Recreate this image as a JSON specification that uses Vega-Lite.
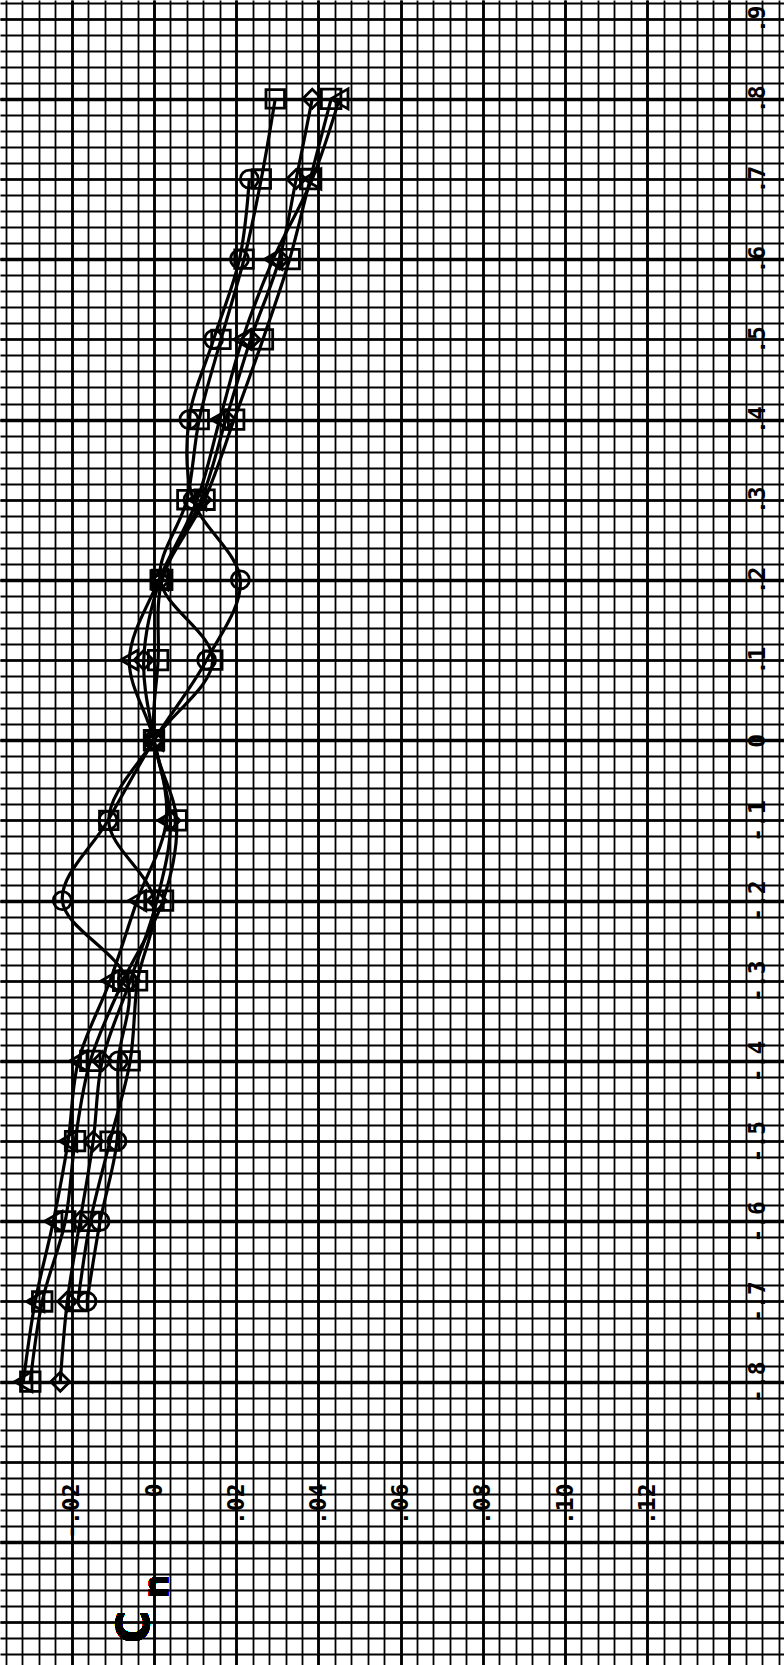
{
  "$schema": "https://vega.github.io/schema/vega-lite/v6.json",
  "width": 784,
  "height": 1665,
  "padding": 0,
  "autosize": {"type": "none"},
  "background": "white",
  "config": {"view": {"stroke": null}, "axis": {"domain": false, "ticks": false, "title": null, "gridColor": "#000", "gridOpacity": 1}},
  "datasets": {
    "pts": [
      {"s": "tri", "a": 0.8, "c": 0.0451}, {"s": "tri", "a": 0.7, "c": 0.0385}, {"s": "tri", "a": 0.6, "c": 0.029}, {"s": "tri", "a": 0.5, "c": 0.0215}, {"s": "tri", "a": 0.4, "c": 0.016}, {"s": "tri", "a": 0.3, "c": 0.0105}, {"s": "tri", "a": 0.2, "c": 0.0012}, {"s": "tri", "a": 0.1, "c": -0.006}, {"s": "tri", "a": 0.0, "c": 0.0}, {"s": "tri", "a": -0.1, "c": 0.003}, {"s": "tri", "a": -0.2, "c": -0.0041}, {"s": "tri", "a": -0.3, "c": -0.0107}, {"s": "tri", "a": -0.4, "c": -0.0184}, {"s": "tri", "a": -0.5, "c": -0.0209}, {"s": "tri", "a": -0.6, "c": -0.0245}, {"s": "tri", "a": -0.7, "c": -0.0289}, {"s": "tri", "a": -0.8, "c": -0.0318},
      {"s": "sqB", "a": 0.8, "c": 0.0431}, {"s": "sqB", "a": 0.7, "c": 0.038}, {"s": "sqB", "a": 0.6, "c": 0.033}, {"s": "sqB", "a": 0.5, "c": 0.0265}, {"s": "sqB", "a": 0.4, "c": 0.0195}, {"s": "sqB", "a": 0.3, "c": 0.0123}, {"s": "sqB", "a": 0.2, "c": 0.002}, {"s": "sqB", "a": 0.1, "c": 0.001}, {"s": "sqB", "a": 0.0, "c": 0.0}, {"s": "sqB", "a": -0.1, "c": 0.0055}, {"s": "sqB", "a": -0.2, "c": 0.0022}, {"s": "sqB", "a": -0.3, "c": -0.0075}, {"s": "sqB", "a": -0.4, "c": -0.0155}, {"s": "sqB", "a": -0.5, "c": -0.0192}, {"s": "sqB", "a": -0.6, "c": -0.0216}, {"s": "sqB", "a": -0.7, "c": -0.0272}, {"s": "sqB", "a": -0.8, "c": -0.0301},
      {"s": "dia", "a": 0.8, "c": 0.0385}, {"s": "dia", "a": 0.7, "c": 0.0346}, {"s": "dia", "a": 0.6, "c": 0.0305}, {"s": "dia", "a": 0.5, "c": 0.0235}, {"s": "dia", "a": 0.4, "c": 0.0175}, {"s": "dia", "a": 0.3, "c": 0.0115}, {"s": "dia", "a": 0.2, "c": 0.0015}, {"s": "dia", "a": 0.1, "c": -0.0025}, {"s": "dia", "a": 0.0, "c": 0.0}, {"s": "dia", "a": -0.1, "c": 0.004}, {"s": "dia", "a": -0.2, "c": 0.0007}, {"s": "dia", "a": -0.3, "c": -0.0058}, {"s": "dia", "a": -0.4, "c": -0.0126}, {"s": "dia", "a": -0.5, "c": -0.0148}, {"s": "dia", "a": -0.6, "c": -0.018}, {"s": "dia", "a": -0.7, "c": -0.0211}, {"s": "dia", "a": -0.8, "c": -0.0228},
      {"s": "sqA", "a": 0.8, "c": 0.0295}, {"s": "sqA", "a": 0.7, "c": 0.0261}, {"s": "sqA", "a": 0.6, "c": 0.0219}, {"s": "sqA", "a": 0.5, "c": 0.0163}, {"s": "sqA", "a": 0.4, "c": 0.011}, {"s": "sqA", "a": 0.3, "c": 0.008}, {"s": "sqA", "a": 0.2, "c": 0.0015}, {"s": "sqA", "a": 0.1, "c": 0.0143}, {"s": "sqA", "a": 0.0, "c": 0.0}, {"s": "sqA", "a": -0.1, "c": -0.011}, {"s": "sqA", "a": -0.2, "c": 0.0}, {"s": "sqA", "a": -0.3, "c": -0.004}, {"s": "sqA", "a": -0.4, "c": -0.0058}, {"s": "sqA", "a": -0.5, "c": -0.0107}, {"s": "sqA", "a": -0.6, "c": -0.0155}, {"s": "sqA", "a": -0.7, "c": -0.0185},
      {"s": "cir", "a": 0.7, "c": 0.0232}, {"s": "cir", "a": 0.6, "c": 0.0208}, {"s": "cir", "a": 0.5, "c": 0.0145}, {"s": "cir", "a": 0.4, "c": 0.0085}, {"s": "cir", "a": 0.3, "c": 0.0095}, {"s": "cir", "a": 0.2, "c": 0.021}, {"s": "cir", "a": 0.1, "c": 0.0128}, {"s": "cir", "a": 0.0, "c": 0.0}, {"s": "cir", "a": -0.1, "c": -0.0112}, {"s": "cir", "a": -0.2, "c": -0.0223}, {"s": "cir", "a": -0.3, "c": -0.0065}, {"s": "cir", "a": -0.4, "c": -0.0087}, {"s": "cir", "a": -0.5, "c": -0.009}, {"s": "cir", "a": -0.6, "c": -0.0131}, {"s": "cir", "a": -0.7, "c": -0.0163}
    ]
  },
  "data": {"name": "pts"},
  "layer": [
    {
      "mark": {"type": "point", "opacity": 0},
      "encoding": {
        "x": {"field": "c", "type": "quantitative", "scale": {"domain": [-0.03747, 0.15328], "nice": false, "zero": false},
          "axis": {"orient": "bottom", "grid": true, "labels": false, "gridWidth": 1.8,
            "values": [-0.036,-0.032,-0.028,-0.024,-0.02,-0.016,-0.012,-0.008,-0.004,0,0.004,0.008,0.012,0.016,0.02,0.024,0.028,0.032,0.036,0.04,0.044,0.048,0.052,0.056,0.06,0.064,0.068,0.072,0.076,0.08,0.084,0.088,0.092,0.096,0.1,0.104,0.108,0.112,0.116,0.12,0.124,0.128,0.132,0.136,0.14,0.144,0.148,0.152]}},
        "y": {"field": "a", "type": "quantitative", "scale": {"domain": [-1.1534, 0.9233], "nice": false, "zero": false},
          "axis": {"orient": "left", "grid": true, "labels": false, "gridWidth": 1.8,
            "values": [0.92,0.9,0.88,0.86,0.84,0.82,0.8,0.78,0.76,0.74,0.72,0.7,0.68,0.66,0.64,0.62,0.6,0.58,0.56,0.54,0.52,0.5,0.48,0.46,0.44,0.42,0.4,0.38,0.36,0.34,0.32,0.3,0.28,0.26,0.24,0.22,0.2,0.18,0.16,0.14,0.12,0.1,0.08,0.06,0.04,0.02,0,-0.02,-0.04,-0.06,-0.08,-0.1,-0.12,-0.14,-0.16,-0.18,-0.2,-0.22,-0.24,-0.26,-0.28,-0.3,-0.32,-0.34,-0.36,-0.38,-0.4,-0.42,-0.44,-0.46,-0.48,-0.5,-0.52,-0.54,-0.56,-0.58,-0.6,-0.62,-0.64,-0.66,-0.68,-0.7,-0.72,-0.74,-0.76,-0.78,-0.8,-0.82,-0.84,-0.86,-0.88,-0.9,-0.92,-0.94,-0.96,-0.98,-1,-1.02,-1.04,-1.06,-1.08,-1.1,-1.12,-1.14]}}
      }
    },
    {
      "mark": {"type": "point", "opacity": 0},
      "encoding": {
        "x": {"field": "c", "type": "quantitative", "scale": {"domain": [-0.03747, 0.15328], "nice": false, "zero": false},
          "axis": {"orient": "bottom", "offset": -182, "grid": true, "gridWidth": 2.8,
            "values": [-0.02, 0, 0.02, 0.04, 0.06, 0.08, 0.1, 0.12, 0.14],
            "labelExpr": "datum.value > 0.13 ? '' : (abs(datum.value) < 0.001 ? '0' : (datum.value < 0 ? '-' : '') + '.' + (round(abs(datum.value)*100) < 10 ? '0' : '') + round(abs(datum.value)*100))",
            "labelAngle": 270, "labelAlign": "right", "labelBaseline": "middle", "labelPadding": 0,
            "labelFont": "DejaVu Sans Mono", "labelFontWeight": "bold", "labelFontSize": 23, "labelColor": "#000", "labelOverlap": false, "labelFlush": false}},
        "y": {"field": "a", "type": "quantitative", "scale": {"domain": [-1.1534, 0.9233], "nice": false, "zero": false},
          "axis": {"orient": "right", "offset": -38, "grid": true, "gridWidth": 2.4,
            "values": [0.9, 0.8, 0.7, 0.6, 0.5, 0.4, 0.3, 0.2, 0.1, 0, -0.1, -0.2, -0.3, -0.4, -0.5, -0.6, -0.7, -0.8, -0.9, -1.0, -1.1],
            "labelExpr": "datum.value < -0.85 ? '' : (abs(datum.value) < 0.001 ? '0' : (datum.value < 0 ? '-' : '') + '.' + round(abs(datum.value)*10))",
            "labelAngle": 270, "labelAlign": "center", "labelBaseline": "top", "labelPadding": 0,
            "labelFont": "DejaVu Sans Mono", "labelFontWeight": "bold", "labelFontSize": 23, "labelColor": "#000", "labelOverlap": false, "labelFlush": false}}
      }
    },
    {
      "mark": {"type": "point", "opacity": 0},
      "encoding": {
        "x": {"field": "c", "type": "quantitative", "scale": {"domain": [-0.03747, 0.15328], "nice": false, "zero": false}, "axis": null},
        "y": {"field": "a", "type": "quantitative", "scale": {"domain": [-1.1534, 0.9233], "nice": false, "zero": false},
          "axis": {"orient": "left", "grid": true, "labels": false, "gridWidth": 3.4,
            "values": [0.8, 0.6, 0.4, 0.2, 0, -0.2, -0.4, -0.6, -0.8, -1.0]}}
      }
    },
    {
      "mark": {"type": "line", "interpolate": "catmull-rom", "stroke": "#000", "strokeWidth": 3.2},
      "encoding": {
        "x": {"field": "c", "type": "quantitative", "scale": {"domain": [-0.03747, 0.15328], "nice": false, "zero": false}, "axis": null},
        "y": {"field": "a", "type": "quantitative", "scale": {"domain": [-1.1534, 0.9233], "nice": false, "zero": false}, "axis": null},
        "detail": {"field": "s", "type": "nominal"},
        "order": {"field": "a", "type": "quantitative"}
      }
    },
    {
      "mark": {"type": "point", "filled": false, "stroke": "#000", "strokeWidth": 2.8, "opacity": 1},
      "encoding": {
        "x": {"field": "c", "type": "quantitative", "scale": {"domain": [-0.03747, 0.15328], "nice": false, "zero": false}, "axis": null},
        "y": {"field": "a", "type": "quantitative", "scale": {"domain": [-1.1534, 0.9233], "nice": false, "zero": false}, "axis": null},
        "shape": {"field": "s", "type": "nominal", "legend": null,
          "scale": {"domain": ["tri", "sqB", "dia", "sqA", "cir"], "range": ["triangle-left", "square", "diamond", "square", "circle"]}},
        "size": {"field": "s", "type": "nominal", "legend": null,
          "scale": {"domain": ["tri", "sqB", "dia", "sqA", "cir"], "range": [400, 324, 460, 324, 324]}}
      }
    },
    {
      "mark": {"type": "text", "text": "C", "angle": 270, "align": "center", "baseline": "middle", "font": "DejaVu Sans", "fontWeight": "bold", "fontSize": 44, "color": "#000"},
      "encoding": {
        "x": {"datum": -0.0044, "type": "quantitative", "scale": {"domain": [-0.03747, 0.15328], "nice": false, "zero": false}, "axis": null},
        "y": {"datum": -1.106, "type": "quantitative", "scale": {"domain": [-1.1534, 0.9233], "nice": false, "zero": false}, "axis": null}
      }
    },
    {
      "mark": {"type": "text", "text": "n", "angle": 270, "align": "center", "baseline": "middle", "font": "DejaVu Sans", "fontWeight": "bold", "fontSize": 34, "color": "#000"},
      "encoding": {
        "x": {"datum": 0.001, "type": "quantitative", "scale": {"domain": [-0.03747, 0.15328], "nice": false, "zero": false}, "axis": null},
        "y": {"datum": -1.0555, "type": "quantitative", "scale": {"domain": [-1.1534, 0.9233], "nice": false, "zero": false}, "axis": null}
      }
    }
  ],
  "resolve": {"scale": {"x": "independent", "y": "independent"}, "axis": {"x": "independent", "y": "independent"}}
}
